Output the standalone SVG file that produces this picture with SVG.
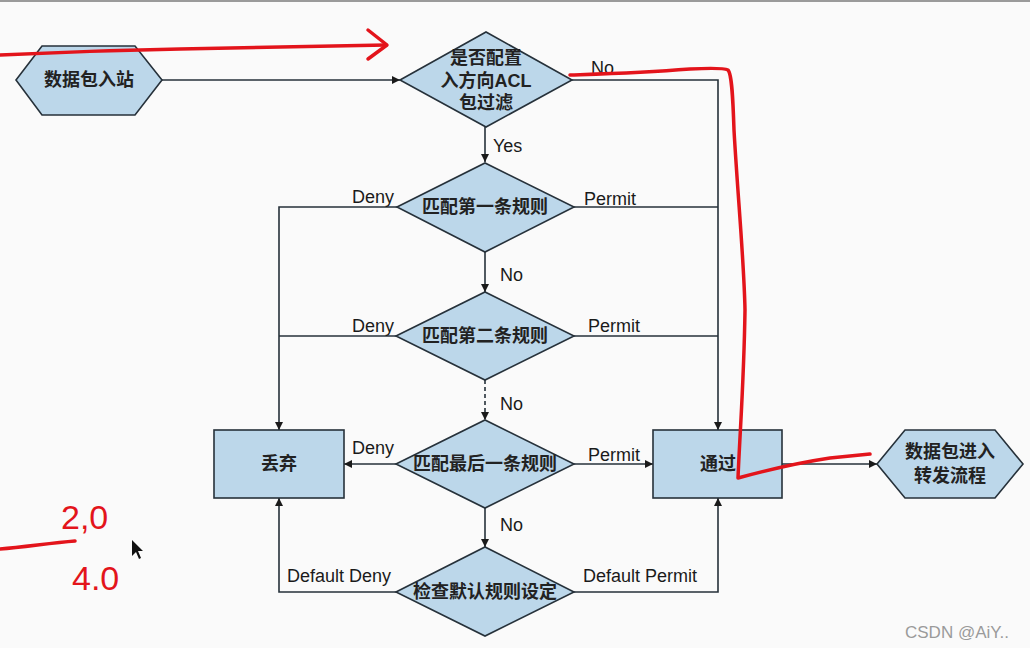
<svg xmlns="http://www.w3.org/2000/svg" width="1030" height="648" viewBox="0 0 1030 648">
<style>
.node{fill:#bcd7ea;stroke:#26313a;stroke-width:1.6}
.c{fill:none;stroke:#26313a;stroke-width:1.6}
.dash{stroke-dasharray:4 3}
.t{font-family:"Liberation Sans","Noto Sans CJK SC",sans-serif;font-size:18px;font-weight:bold;fill:#222;text-anchor:middle;dominant-baseline:central}
.l{font-family:"Liberation Sans",Arial,sans-serif;font-size:18px;fill:#1a1a1a}
.red{fill:none;stroke:#e3141b;stroke-width:3.5;stroke-linecap:round;stroke-linejoin:round}
.hw{font-family:"Liberation Sans",sans-serif;font-size:34px;fill:#e3141b}
</style>
<defs>
<marker id="a" viewBox="0 0 10 10" refX="10" refY="5" markerWidth="8" markerHeight="8" markerUnits="userSpaceOnUse" orient="auto"><path d="M0,0 L10,5 L0,10 z" fill="#1a1a1a"/></marker>
</defs>
<rect width="1030" height="648" fill="#fafafa"/>
<rect width="1030" height="2" fill="#9a9a9a"/>

<g id="connectors">
<path class="c" d="M162,80 H400" marker-end="url(#a)"/>
<path class="c" d="M572,80 H718 V430" marker-end="url(#a)"/>
<path class="c" d="M485,127 V162" marker-end="url(#a)"/>
<path class="c" d="M397,207 H279 V430" marker-end="url(#a)"/>
<path class="c" d="M574,207 H718"/>
<path class="c" d="M485,252 V292" marker-end="url(#a)"/>
<path class="c" d="M396,336 H279"/>
<path class="c" d="M574,336 H718"/>
<path class="c dash" d="M485,380 V420" marker-end="url(#a)"/>
<path class="c" d="M396,464 H344" marker-end="url(#a)"/>
<path class="c" d="M574,464 H653" marker-end="url(#a)"/>
<path class="c" d="M485,508 V547" marker-end="url(#a)"/>
<path class="c" d="M396,592 H279 V498" marker-end="url(#a)"/>
<path class="c" d="M574,592 H718 V498" marker-end="url(#a)"/>
<path class="c" d="M782,464 H877" marker-end="url(#a)"/>
<text class="l" x="591" y="74">No</text>
<text class="l" x="493" y="152">Yes</text>
<text class="l" x="352" y="203">Deny</text>
<text class="l" x="584" y="205">Permit</text>
<text class="l" x="500" y="281">No</text>
<text class="l" x="352" y="332">Deny</text>
<text class="l" x="588" y="332">Permit</text>
<text class="l" x="500" y="410">No</text>
<text class="l" x="352" y="454">Deny</text>
<text class="l" x="588" y="461">Permit</text>
<text class="l" x="500" y="531">No</text>
<text class="l" x="287" y="582">Default Deny</text>
<text class="l" x="583" y="582">Default Permit</text>
</g>

<g id="start">
<polygon class="node" points="16,80 42,46 135,46 162,80 135,115 42,115"/>
<text class="t" x="89" y="80">数据包入站</text>
</g>
<g id="check-acl">
<polygon class="node" points="400,80 486,32 572,80 486,127"/>
<text class="t" x="486" y="58">是否配置</text>
<text class="t" x="486" y="81">入方向ACL</text>
<text class="t" x="486" y="103">包过滤</text>
</g>
<g id="rule1">
<polygon class="node" points="397,207 485,163 574,207 485,252"/>
<text class="t" x="485" y="207">匹配第一条规则</text>
</g>
<g id="rule2">
<polygon class="node" points="396,336 485,292 574,336 485,380"/>
<text class="t" x="485" y="336">匹配第二条规则</text>
</g>
<g id="rule-last">
<polygon class="node" points="396,464 485,420 574,464 485,508"/>
<text class="t" x="485" y="464">匹配最后一条规则</text>
</g>
<g id="default">
<polygon class="node" points="396,592 485,547 574,592 485,636"/>
<text class="t" x="485" y="592">检查默认规则设定</text>
</g>
<g id="drop">
<rect class="node" x="214" y="430" width="130" height="68"/>
<text class="t" x="279" y="464">丢弃</text>
</g>
<g id="pass">
<rect class="node" x="653" y="430" width="129" height="68"/>
<text class="t" x="718" y="464">通过</text>
</g>
<g id="forward">
<polygon class="node" points="877,464 905,430 995,430 1023,464 995,498 905,498"/>
<text class="t" x="950" y="452">数据包进入</text>
<text class="t" x="950" y="476">转发流程</text>
</g>

<g id="annotations">
<path class="red" d="M0,55 C60,52 120,50 180,49 C260,47 330,46 386,45"/>
<path class="red" d="M368,30 L387,45 L368,59"/>
<path class="red" d="M570,75 C600,74 640,73 690,69 C710,68 724,68 728,70 C732,74 733,100 734,130 C738,200 744,260 745,310 C744,380 740,430 738,478 C760,472 790,464 830,458 L870,454"/>
<path class="red" d="M0,549 C25,547 50,543 75,541"/>
<text class="hw" x="61" y="529">2,0</text>
<text class="hw" x="72" y="590">4.0</text>
<polygon points="132,540 132,556 136,552 139,559 141,558 138,551 143,551" fill="#111"/>
<text x="905" y="638" font-family="Liberation Sans,Arial,sans-serif" font-size="17" fill="#9a9a9a">CSDN @AiY..</text>
</g>
</svg>
